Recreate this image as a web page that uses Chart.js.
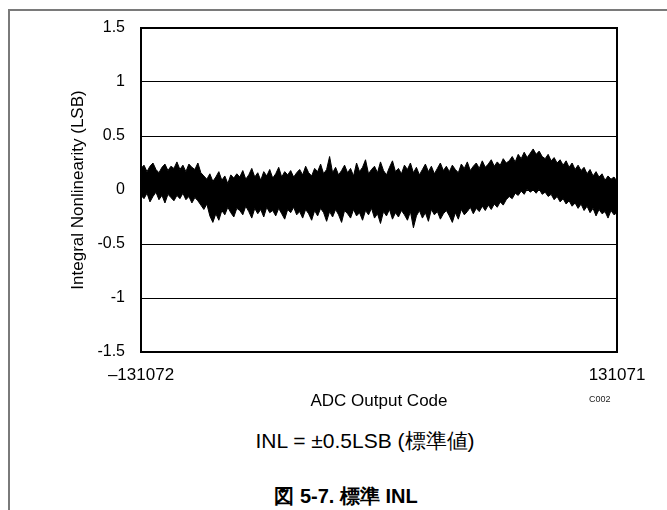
<!DOCTYPE html>
<html>
<head>
<meta charset="utf-8">
<script src="https://cdn.jsdelivr.net/npm/chart.js"></script>
<style>
  body { margin: 0; background: #fff; font-family: "Liberation Sans", Arial, sans-serif; }
  #page { position: relative; width: 667px; height: 510px; overflow: hidden; }
  #frame { position: absolute; left: 8px; top: 9px; width: 700px; height: 520px;
           border-top: 2px solid #7a7a7a; border-left: 2px solid #7a7a7a; }
  #wrap { position: absolute; left: 0; top: 0; }
  .txt { position: absolute; white-space: nowrap; color: #000; line-height: 1; }
  #code { left: 589px; top: 395px; font-size: 9px; color: #222; }
  #note { left: 365px; top: 430px; font-size: 21px; transform: translateX(-50%); }
  #caption { left: 346px; top: 486px; font-size: 20px; font-weight: bold; transform: translateX(-50%); }
</style>
</head>
<body>
<div id="page">
  <div id="frame"></div>
  <div id="wrap"><canvas id="inl" width="667" height="420"></canvas></div>
  <div class="txt" id="code">C002</div>
  <div class="txt" id="note">INL = ±0.5LSB (標準値)</div>
  <div class="txt" id="caption">図 5-7. 標準 INL</div>
</div>
<script>
const codeMin = -131072;
const codeMax = 131071;
const xTickLabels = ["\u2013131072", "131071"];
const yTicks = [1.5, 1, 0.5, 0, -0.5, -1, -1.5];

// upper / lower edge of the INL noise band left to right
const inlUpper = [
  0.20, 0.23, 0.17, 0.22, 0.25, 0.19, 0.16, 0.21, 0.24, 0.18, 0.22, 0.20, 0.26, 0.19, 0.23, 0.17, 0.24, 0.21, 0.19, 0.25,
  0.16, 0.13, 0.10, 0.15, 0.08, 0.12, 0.17, 0.09, 0.13, 0.06, 0.14, 0.11, 0.15,
  0.12, 0.18, 0.10, 0.14, 0.20, 0.12, 0.16, 0.09, 0.17, 0.13, 0.19, 0.11, 0.15, 0.21, 0.12, 0.17, 0.14, 0.18, 0.12, 0.16,
  0.19, 0.14, 0.22, 0.16, 0.13, 0.20, 0.17, 0.24, 0.15, 0.19, 0.31, 0.16, 0.21, 0.14, 0.18, 0.23, 0.16, 0.20, 0.13, 0.25,
  0.17, 0.21, 0.28, 0.15, 0.19, 0.22, 0.16, 0.26, 0.18, 0.14, 0.21, 0.27, 0.17, 0.20, 0.15, 0.23, 0.19, 0.25, 0.16, 0.21,
  0.14, 0.19, 0.24, 0.17, 0.22, 0.15, 0.20, 0.25, 0.18, 0.22,
  0.17, 0.23, 0.19, 0.16, 0.24, 0.20, 0.26, 0.18, 0.22, 0.25, 0.20, 0.27, 0.21, 0.24, 0.28, 0.22, 0.26, 0.23, 0.29, 0.25,
  0.27, 0.31, 0.26, 0.33, 0.29, 0.35, 0.30, 0.34, 0.38, 0.33, 0.36, 0.31,
  0.29, 0.33, 0.27, 0.30, 0.25, 0.28, 0.23, 0.27, 0.21, 0.25, 0.19, 0.23, 0.18, 0.21, 0.15, 0.19, 0.13, 0.17, 0.12, 0.15,
  0.09, 0.13, 0.10, 0.12, 0.08
];
const inlLower = [
  -0.05, -0.08, -0.03, -0.11, -0.06, -0.02, -0.09, -0.05, -0.12, -0.04, -0.07, -0.10, -0.05, -0.08, -0.03, -0.09, -0.06, -0.12, -0.07, -0.10,
  -0.14, -0.18, -0.13, -0.24, -0.30, -0.22, -0.28, -0.19, -0.23, -0.16, -0.21, -0.25, -0.17,
  -0.19, -0.23, -0.15, -0.20, -0.26, -0.17, -0.22, -0.18, -0.25, -0.16, -0.21, -0.19, -0.24, -0.17, -0.22, -0.27, -0.18, -0.21, -0.16, -0.23,
  -0.20, -0.26, -0.18, -0.22, -0.28, -0.19, -0.24, -0.17, -0.21, -0.29, -0.20, -0.25, -0.18, -0.23, -0.30, -0.19, -0.22, -0.26, -0.18, -0.24,
  -0.21, -0.28, -0.19, -0.23, -0.17, -0.26, -0.22, -0.31, -0.20, -0.24, -0.18, -0.27, -0.21, -0.25, -0.19, -0.23, -0.28, -0.20, -0.35, -0.24,
  -0.19, -0.26, -0.21, -0.29, -0.18, -0.23, -0.20, -0.27, -0.22, -0.19,
  -0.24, -0.30, -0.21, -0.27, -0.18, -0.23, -0.20, -0.16, -0.22, -0.17, -0.20, -0.15, -0.19, -0.14, -0.18, -0.13, -0.16, -0.11, -0.14, -0.09,
  -0.06, -0.08, -0.03, -0.05, -0.01, -0.04, 0.01, -0.02, 0.00, -0.03, 0.01, -0.04,
  -0.02, -0.06, -0.04, -0.09, -0.06, -0.11, -0.08, -0.13, -0.10, -0.15, -0.12, -0.17, -0.13, -0.19, -0.15, -0.21, -0.17, -0.24, -0.18, -0.22,
  -0.20, -0.26, -0.19, -0.23, -0.21
];

// sample codes, evenly spread over the full code range
const codes = inlUpper.map((_, i) =>
  Math.round(codeMin + (codeMax - codeMin) * i / (inlUpper.length - 1)));

const plotFrame = {
  id: "plotFrame",
  afterDatasetsDraw(chart) {
    const { ctx, chartArea: a } = chart;
    ctx.save();
    ctx.strokeStyle = "#000";
    ctx.lineWidth = 2;
    ctx.strokeRect(a.left, a.top, a.right - a.left, a.bottom - a.top);
    ctx.restore();
  },
};

const font = "'Liberation Sans', Arial, sans-serif";

new Chart(document.getElementById("inl").getContext("2d"), {
  type: "line",
  data: {
    labels: codes,
    datasets: [
      {
        label: "INL max",
        data: inlUpper,
        borderColor: "#000",
        backgroundColor: "#000",
        borderWidth: 1,
        pointRadius: 0,
        tension: 0,
        fill: "+1",
      },
      {
        label: "INL min",
        data: inlLower,
        borderColor: "#000",
        borderWidth: 1,
        pointRadius: 0,
        tension: 0,
        fill: false,
      },
    ],
  },
  options: {
    responsive: false,
    animation: false,
    devicePixelRatio: 1,
    layout: { padding: { top: 28, right: 50, left: 0, bottom: 0 } },
    plugins: {
      legend: { display: false },
      tooltip: { enabled: false },
    },
    scales: {
      x: {
        type: "category",
        offset: false,
        afterFit: (s) => { s.height = 68; },
        afterBuildTicks: (s) => { s.ticks = [s.ticks[0], s.ticks[s.ticks.length - 1]]; },
        grid: { display: false, drawTicks: false },
        border: { display: true, color: "#000", width: 2 },
        ticks: {
          autoSkip: false,
          maxRotation: 0,
          padding: 13,
          color: "#000",
          font: { family: font, size: 17 },
          callback: (v, i) => xTickLabels[i],
        },
        title: {
          display: true,
          text: "ADC Output Code",
          color: "#000",
          font: { family: font, size: 17 },
          padding: { top: 0, bottom: 8 },
        },
      },
      y: {
        min: -1.5,
        max: 1.5,
        afterFit: (s) => { s.width = 141; },
        afterBuildTicks: (s) => { s.ticks = yTicks.map((v) => ({ value: v })); },
        grid: { color: "#000", lineWidth: 1, drawTicks: false },
        border: { display: true, color: "#000", width: 2 },
        ticks: {
          padding: 16,
          color: "#000",
          font: { family: font, size: 16 },
          callback: (v) => String(v),
        },
        title: {
          display: true,
          text: "Integral Nonlinearity (LSB)",
          color: "#000",
          font: { family: font, size: 17 },
          padding: { top: 68, bottom: 0 },
        },
      },
    },
  },
  plugins: [plotFrame],
});
</script>
</body>
</html>
